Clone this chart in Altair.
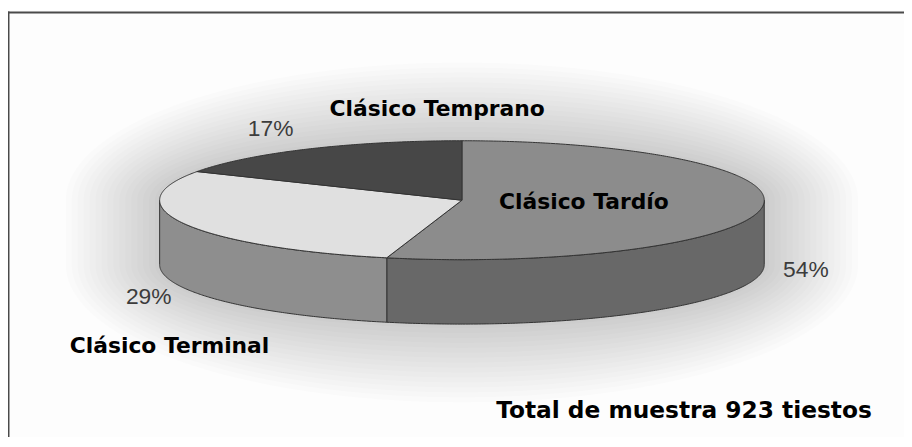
import math
import altair as alt
import pandas as pd

# ---- data ----
categories = ["Clásico Tardío", "Clásico Terminal", "Clásico Temprano"]
percents = [54, 29, 17]
total_label = "Total de muestra 923 tiestos"

# ---- styles ----
top_colors = ["#8c8c8c", "#e0e0e0", "#474747"]
side_colors = ["#686868", "#8e8e8e", "#303030"]

# pie geometry (pixels inside the chart)
W, H = 904, 431
CX, CY, RX, RY, DEPTH = 458, 192, 305, 60, 65

# label positions (chart pixels)
name_pos = {"Clásico Tardío": (581, 194), "Clásico Terminal": (163, 339), "Clásico Temprano": (433, 100)}
pct_pos = {"Clásico Tardío": (805, 262), "Clásico Terminal": (142, 290), "Clásico Temprano": (265, 120)}
total_pos = (682, 405)


def ell(a, dy=0.0, rx=RX, ry=RY):
    r = math.radians(a)
    return [CX + rx * math.sin(r), CY - ry * math.cos(r) + dy]


def arc(a1, a2, dy=0.0, rx=RX, ry=RY):
    n = max(2, int(abs(a2 - a1) * 2))
    return [ell(a1 + (a2 - a1) * i / n, dy, rx, ry) for i in range(n + 1)]


total = sum(percents)
tops, sides = [], []
start = 0.0
for cat, p, tc, sc in zip(categories, percents, top_colors, side_colors):
    end = start + 360.0 * p / total
    ring = [[CX, CY]] + arc(start, end) + [[CX, CY]]
    tops.append({"type": "Feature", "geometry": {"type": "Polygon", "coordinates": [ring]},
                 "properties": {"name": cat, "fill": tc}})
    s, e = max(start, 90.0), min(end, 270.0)
    if s < e:
        ring = arc(s, e) + arc(e, s, DEPTH)
        ring.append(ring[0])
        sides.append({"type": "Feature", "geometry": {"type": "Polygon", "coordinates": [ring]},
                      "properties": {"name": cat, "fill": sc}})
    start = end

# soft halo around the pie silhouette (decoration)
halo = []
for k in range(16):
    d = 4 + k * 5
    ring = arc(270, 450, 0, RX + d * 1.2, RY + d) + arc(90, 270, DEPTH, RX + d * 1.2, RY + d)
    ring.append(ring[0])
    halo.append({"type": "Feature", "geometry": {"type": "Polygon", "coordinates": [ring]},
                 "properties": {"k": k}})

proj = alt.Projection(type="identity", scale=1, translate=[0, 0])

bg = alt.Chart(pd.DataFrame({"a": [0]})).mark_rect(fill="#fdfdfd").encode(
    x=alt.value(0), x2=alt.value(W), y=alt.value(0), y2=alt.value(H))

halo_layer = alt.Chart(alt.Data(values=halo)).mark_geoshape(
    fill="#000000", fillOpacity=0.013, strokeWidth=0
)

border_top = alt.Chart(pd.DataFrame({"a": [0]})).mark_rule(color="#4a4a4a", strokeWidth=2).encode(
    x=alt.value(0), x2=alt.value(W), y=alt.value(2.5))
border_left = alt.Chart(pd.DataFrame({"a": [0]})).mark_rule(color="#4a4a4a", strokeWidth=2).encode(
    x=alt.value(0.5), y=alt.value(1.5), y2=alt.value(H))

side_layer = alt.Chart(alt.Data(values=sides)).mark_geoshape(
    stroke="#333333", strokeWidth=1
).encode(fill=alt.Fill("properties.fill:N", scale=None))

top_layer = alt.Chart(alt.Data(values=tops)).mark_geoshape(
    stroke="#333333", strokeWidth=1
).encode(fill=alt.Fill("properties.fill:N", scale=None))

names_df = pd.DataFrame({
    "text": categories,
    "lon": [name_pos[c][0] for c in categories],
    "lat": [name_pos[c][1] for c in categories],
})
total_df = pd.DataFrame({"text": [total_label], "lon": [total_pos[0]], "lat": [total_pos[1]]})
pcts_df = pd.DataFrame({
    "text": [f"{p}%" for p in percents],
    "lon": [pct_pos[c][0] for c in categories],
    "lat": [pct_pos[c][1] for c in categories],
})

names = alt.Chart(names_df).mark_text(
    font="DejaVu Sans", fontWeight="bold", fontSize=22, color="#000000",
    align="center", baseline="middle"
).encode(longitude="lon:Q", latitude="lat:Q", text="text:N")

total_text = alt.Chart(total_df).mark_text(
    font="DejaVu Sans", fontWeight="bold", fontSize=23.5, color="#000000",
    align="center", baseline="middle"
).encode(longitude="lon:Q", latitude="lat:Q", text="text:N")

pcts = alt.Chart(pcts_df).mark_text(
    font="Liberation Sans", fontSize=23, color="#3c3c3c",
    align="center", baseline="middle"
).encode(longitude="lon:Q", latitude="lat:Q", text="text:N")

chart = alt.layer(bg, halo_layer, border_top, border_left, side_layer, top_layer,
                  names, total_text, pcts).properties(
    width=W, height=H, padding=0, autosize="none", projection=proj, background="white"
).configure_view(stroke=None)

chart.save("out.html", embed_options={"renderer": "svg", "actions": False})
